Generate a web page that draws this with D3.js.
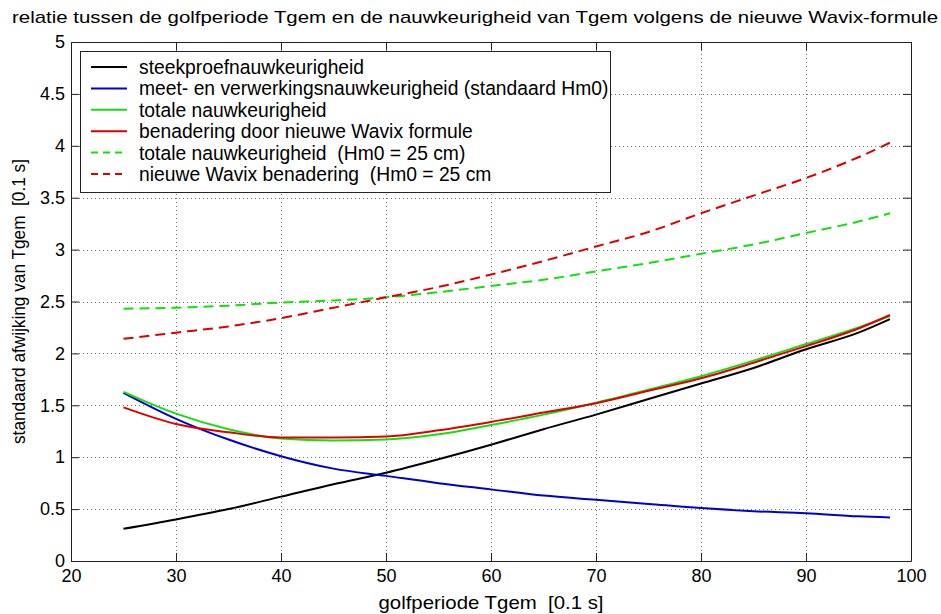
<!DOCTYPE html>
<html>
<head>
<meta charset="utf-8">
<script src="https://cdn.jsdelivr.net/npm/d3@7/dist/d3.min.js"></script>
<style>
  html, body { margin: 0; padding: 0; background: #fff; }
  svg { display: block; font-family: "Liberation Sans", Arial, sans-serif; }
</style>
</head>
<body>
<svg id="chart" width="941" height="614"></svg>
<script>
// ---- data ----
const xs = [25, 30, 35, 40, 45, 50, 55, 60, 65, 70, 75, 80, 85, 90, 95, 98];
const steekproef   = [0.31, 0.40, 0.50, 0.62, 0.74, 0.85, 0.98, 1.12, 1.27, 1.41, 1.56, 1.71, 1.86, 2.04, 2.20, 2.33];
const meetVerwerk  = [1.62, 1.37, 1.17, 1.01, 0.89, 0.82, 0.75, 0.69, 0.63, 0.59, 0.55, 0.51, 0.48, 0.46, 0.43, 0.42];
const totaal       = [1.63, 1.42, 1.27, 1.18, 1.16, 1.17, 1.22, 1.31, 1.41, 1.525, 1.65, 1.78, 1.93, 2.09, 2.25, 2.36];
const wavix        = [1.48, 1.32, 1.24, 1.19, 1.19, 1.20, 1.26, 1.34, 1.43, 1.52, 1.64, 1.76, 1.91, 2.07, 2.24, 2.37];
const totaal25     = [2.43, 2.44, 2.46, 2.49, 2.51, 2.54, 2.59, 2.65, 2.71, 2.79, 2.87, 2.96, 3.05, 3.16, 3.27, 3.35];
const wavix25      = [2.14, 2.20, 2.26, 2.34, 2.44, 2.54, 2.64, 2.76, 2.89, 3.03, 3.17, 3.35, 3.52, 3.69, 3.89, 4.03];

const seriesNames = [
  "steekproefnauwkeurigheid",
  "meet- en verwerkingsnauwkeurigheid (standaard Hm0)",
  "totale nauwkeurigheid",
  "benadering door nieuwe Wavix formule",
  "totale nauwkeurigheid  (Hm0 = 25 cm)",
  "nieuwe Wavix benadering  (Hm0 = 25 cm"
];
const xTicks = [20, 30, 40, 50, 60, 70, 80, 90, 100];
const yTicks = [0, 0.5, 1, 1.5, 2, 2.5, 3, 3.5, 4, 4.5, 5];
const titleText = "relatie tussen de golfperiode Tgem en de nauwkeurigheid van Tgem volgens de nieuwe Wavix-formule";
const xLabel = "golfperiode Tgem  [0.1 s]";
const yLabel = "standaard afwijking van Tgem  [0.1 s]";

// ---- styles ----
const seriesValues = [steekproef, meetVerwerk, totaal, wavix, totaal25, wavix25];
const colors = ["#000000", "#0000d0", "#11e011", "#e00000", "#11e011", "#dd0000"];
const dashed = [false, false, false, false, true, true];

const L = 71, R = 911, T = 42, B = 561;
const svg = d3.select("#chart");
const x = d3.scaleLinear().domain([20, 100]).range([L, R]);
const y = d3.scaleLinear().domain([0, 5]).range([B, T]);

// grid
const grid = svg.append("g").attr("stroke", "#777").attr("stroke-width", 1).attr("stroke-dasharray", "1,3");
xTicks.slice(1, -1).forEach(v => {
  grid.append("line").attr("x1", x(v) + 0.5).attr("x2", x(v) + 0.5).attr("y1", T).attr("y2", B);
});
yTicks.slice(1, -1).forEach(v => {
  grid.append("line").attr("y1", Math.round(y(v)) + 0.5).attr("y2", Math.round(y(v)) + 0.5).attr("x1", L).attr("x2", R);
});

// axes with MATLAB-like inward ticks, mirrored
const tl = 8;
const xAxisB = d3.axisBottom(x).tickValues(xTicks).tickSizeInner(-tl).tickSizeOuter(0).tickPadding(8).tickFormat(d3.format("d"));
const xAxisT = d3.axisTop(x).tickValues(xTicks).tickSizeInner(-tl).tickSizeOuter(0).tickFormat("");
const yAxisL = d3.axisLeft(y).tickValues(yTicks).tickSizeInner(-tl).tickSizeOuter(0).tickPadding(6).tickFormat(d3.format("~g"));
const yAxisR = d3.axisRight(y).tickValues(yTicks).tickSizeInner(-tl).tickSizeOuter(0).tickFormat("");

function styleAxis(g) {
  g.select(".domain").attr("stroke", "#222");
  g.selectAll(".tick line").attr("stroke", "#222");
  g.selectAll(".tick text").attr("fill", "#000").style("font-size", "18px").style("font-family", "'Liberation Sans', Arial, sans-serif");
}
svg.append("g").attr("transform", `translate(0,${B})`).call(xAxisB).call(styleAxis);
svg.append("g").attr("transform", `translate(0,${T})`).call(xAxisT).call(styleAxis);
svg.append("g").attr("transform", `translate(${L},0)`).call(yAxisL).call(styleAxis);
svg.append("g").attr("transform", `translate(${R},0)`).call(yAxisR).call(styleAxis);

// lines
const line = d3.line().x((d, i) => x(xs[i])).y(d => y(d)).curve(d3.curveMonotoneX);
seriesValues.forEach((vals, k) => {
  svg.append("path")
    .datum(vals)
    .attr("fill", "none")
    .attr("stroke", colors[k])
    .attr("stroke-width", 2)
    .attr("stroke-dasharray", dashed[k] ? "10,6" : null)
    .attr("d", line);
});

// legend
const lg = svg.append("g");
lg.append("rect").attr("x", 80.5).attr("y", 51.5).attr("width", 530).attr("height", 141)
  .attr("fill", "#fff").attr("stroke", "#222").attr("stroke-width", 1);
seriesNames.forEach((name, k) => {
  const cy = 67 + k * 21.4;
  lg.append("line").attr("x1", 91).attr("x2", 127).attr("y1", cy).attr("y2", cy)
    .attr("stroke", colors[k]).attr("stroke-width", 2)
    .attr("stroke-dasharray", dashed[k] ? "7,5" : null);
  lg.append("text").attr("x", 139).attr("y", cy).attr("dy", "0.36em")
    .style("font-size", "19.3px").style("white-space", "pre").text(name);
});

// title & labels
svg.append("text").attr("x", 12).attr("y", 23).style("font-size", "17px")
  .attr("textLength", 926).attr("lengthAdjust", "spacingAndGlyphs").text(titleText);
svg.append("text").attr("x", (L + R) / 2).attr("y", 609).attr("text-anchor", "middle")
  .style("font-size", "19px").style("white-space", "pre")
  .attr("textLength", 225).attr("lengthAdjust", "spacingAndGlyphs").text(xLabel);
svg.append("text").attr("transform", `translate(25,${(T + B) / 2}) rotate(-90)`).attr("text-anchor", "middle")
  .style("font-size", "19px").style("white-space", "pre")
  .attr("textLength", 285).attr("lengthAdjust", "spacingAndGlyphs").text(yLabel);
</script>
</body>
</html>
